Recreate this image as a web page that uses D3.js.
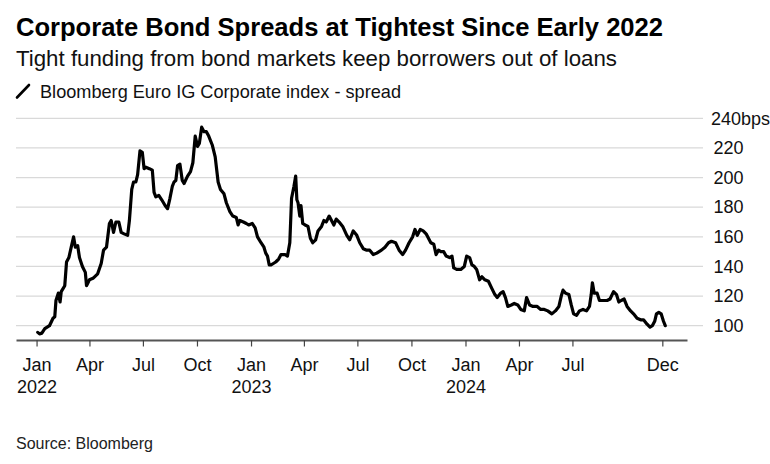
<!DOCTYPE html>
<html>
<head>
<meta charset="utf-8">
<script src="https://cdn.jsdelivr.net/npm/d3@7"></script>
<style>
  html, body { margin: 0; padding: 0; background: #fff; }
  svg { display: block; }
  text { font-family: "Liberation Sans", Arial, sans-serif; }
</style>
</head>
<body>
<svg id="chart" width="770" height="464"></svg>
<script>
// ---------------- DATA ----------------
const dates = [
  "2022-01-03","2022-01-06","2022-01-10","2022-01-15","2022-01-23","2022-01-29","2022-02-01","2022-02-03","2022-02-07","2022-02-10",
  "2022-02-12","2022-02-18","2022-02-21","2022-02-25","2022-03-01","2022-03-05","2022-03-08","2022-03-12","2022-03-15","2022-03-20",
  "2022-03-25","2022-03-27","2022-04-01","2022-04-07","2022-04-15","2022-04-21","2022-04-25","2022-04-30","2022-05-05","2022-05-08",
  "2022-05-12","2022-05-16","2022-05-21","2022-05-25","2022-05-30","2022-06-05","2022-06-08","2022-06-12","2022-06-15","2022-06-19",
  "2022-06-22","2022-06-26","2022-06-30","2022-07-03","2022-07-06","2022-07-12","2022-07-17","2022-07-20","2022-07-23","2022-07-28",
  "2022-08-02","2022-08-08","2022-08-12","2022-08-16","2022-08-20","2022-08-23","2022-08-26","2022-08-29","2022-09-02","2022-09-06",
  "2022-09-09","2022-09-15","2022-09-20","2022-09-24","2022-09-28","2022-10-02","2022-10-05","2022-10-09","2022-10-13","2022-10-17",
  "2022-10-21","2022-10-27","2022-11-01","2022-11-06","2022-11-10","2022-11-16","2022-11-20","2022-11-26","2022-12-01","2022-12-07",
  "2022-12-10","2022-12-13","2022-12-19","2022-12-24","2022-12-28",
  "2023-01-03","2023-01-08","2023-01-12","2023-01-18","2023-01-23","2023-01-26","2023-01-29","2023-02-01","2023-02-04","2023-02-08",
  "2023-02-12","2023-02-17","2023-02-21","2023-02-25","2023-02-28","2023-03-04","2023-03-08","2023-03-11","2023-03-15","2023-03-18",
  "2023-03-20","2023-03-22","2023-03-25","2023-03-27","2023-03-30","2023-04-03","2023-04-08","2023-04-12","2023-04-16","2023-04-21",
  "2023-04-25","2023-05-01","2023-05-05","2023-05-09","2023-05-14","2023-05-18","2023-05-22","2023-05-26","2023-05-31","2023-06-06",
  "2023-06-13","2023-06-18","2023-06-24","2023-06-30","2023-07-05","2023-07-11","2023-07-17","2023-07-22","2023-07-28","2023-08-03",
  "2023-08-11","2023-08-17","2023-08-23","2023-08-28","2023-09-04","2023-09-10","2023-09-16","2023-09-21","2023-09-27","2023-10-03",
  "2023-10-07","2023-10-11","2023-10-16","2023-10-21","2023-10-26","2023-10-30","2023-11-03","2023-11-08","2023-11-12","2023-11-16",
  "2023-11-20","2023-11-25","2023-11-29","2023-12-05","2023-12-09","2023-12-12","2023-12-17","2023-12-24","2023-12-30",
  "2024-01-03","2024-01-08","2024-01-12","2024-01-16","2024-01-20","2024-01-25","2024-01-29","2024-02-03","2024-02-09","2024-02-15",
  "2024-02-20","2024-02-24","2024-03-01","2024-03-05","2024-03-09","2024-03-13","2024-03-19","2024-03-24","2024-03-30","2024-04-04",
  "2024-04-10","2024-04-14","2024-04-19","2024-04-25","2024-05-02","2024-05-08","2024-05-14","2024-05-20","2024-05-27","2024-06-02",
  "2024-06-08","2024-06-12","2024-06-15","2024-06-19","2024-06-25","2024-06-29","2024-07-03","2024-07-08","2024-07-13","2024-07-19",
  "2024-07-25","2024-07-30","2024-08-02","2024-08-04","2024-08-07","2024-08-12","2024-08-16","2024-08-22","2024-08-29","2024-09-03",
  "2024-09-09","2024-09-14","2024-09-18","2024-09-22","2024-09-27","2024-10-02","2024-10-08","2024-10-13","2024-10-19","2024-10-25",
  "2024-10-30","2024-11-05","2024-11-10","2024-11-14","2024-11-18","2024-11-21","2024-11-25","2024-11-29","2024-12-03","2024-12-06"
];
const spread = [
  95.5,94.5,95,98,100,105,106,117,122,116,
  123,127,143,146,153,160,153,154,146,140,
  136,127,131,132,135,142,151,153,169,171,
  163,170,170,163,162,161,171,192,197,197,
  202,218,217,206,207,206,205,190,187,188,
  185,181,179,186,194,197,198,208,209,198,
  196,201,204,210,228,221,223,234,231,231,
  228,222,214,197,192,189,183,177,174,173,
  168,171,170,169,168,
  169,166,160,156,153,149,147,141,141,142,
  143,145,148,148,148,147,156,186,194,201,
  185,183,174,181,169,168,167,159,156,158,
  164,167,171,170,174,171,168,172,170,167,
  161,158,164,161,156,152,151,151,148,149,
  151,153,156,157,156,151,148,151,156,160,
  165,161,165,164,162,159,156,155,148,151,
  150,150,147,146,147,139,138,138,140,
  147,146,141,140,138,131,133,131,130,125,
  121,119,122,123,119,113,114,115,114,111,
  110,119,114,113,113,111,111,110,108,110,
  113,120,124,122,121,114,108,107,110,111,
  110,113,121,129,122,122,117,117,117,118,
  123,121,116,117,118,113,110,108,105,104,
  104,101,99,100,103,108,109,108,103,100
];
const yTicks = [100, 120, 140, 160, 180, 200, 220, 240];
const yTickLabels = ["100","120","140","160","180","200","220","240bps"];
const xTickDates = ["2022-01-01","2022-04-01","2022-07-01","2022-10-01","2023-01-01","2023-04-01","2023-07-01","2023-10-01","2024-01-01","2024-04-01","2024-07-01","2024-12-01"];
const xTickMonths = ["Jan","Apr","Jul","Oct","Jan","Apr","Jul","Oct","Jan","Apr","Jul","Dec"];
const xTickYears = ["2022","","","","2023","","","","2024","","",""];

const titleText = "Corporate Bond Spreads at Tightest Since Early 2022";
const subtitleText = "Tight funding from bond markets keep borrowers out of loans";
const legendText = "Bloomberg Euro IG Corporate index - spread";
const sourceText = "Source: Bloomberg";

// ---------------- CHART ----------------
const parse = d3.utcParse("%Y-%m-%d");
const data = dates.map((d, i) => ({ date: parse(d), value: spread[i] }));
const svg = d3.select("#chart");

const x = d3.scaleUtc()
  .domain([parse("2021-11-27"), parse("2025-01-12")])
  .range([16, 687]);
const y = d3.scaleLinear()
  .domain([90.35, 240])
  .range([340, 118.3]);

// title block
function fitText(sel, target) {
  const len = sel.node().getComputedTextLength();
  if (Math.abs(len - target) > 2) {
    sel.attr("textLength", target).attr("lengthAdjust", "spacingAndGlyphs");
  }
}
const title = svg.append("text").attr("x", 16).attr("y", 36)
  .attr("font-size", 25).attr("font-weight", "bold").attr("fill", "#000")
  .text(titleText);
fitText(title, 647);
const subtitle = svg.append("text").attr("x", 16).attr("y", 66)
  .attr("font-size", 21.5).attr("fill", "#111")
  .text(subtitleText);
fitText(subtitle, 601);

svg.append("line").attr("x1", 17).attr("y1", 97.5).attr("x2", 29).attr("y2", 85)
  .attr("stroke", "#000").attr("stroke-width", 2.6).attr("stroke-linecap", "round");
const legend = svg.append("text").attr("x", 40).attr("y", 98)
  .attr("font-size", 19).attr("fill", "#111")
  .text(legendText);
fitText(legend, 361);

// gridlines
svg.append("g").selectAll("line").data(yTicks).join("line")
  .attr("x1", 16).attr("x2", 703)
  .attr("y1", d => y(d)).attr("y2", d => y(d))
  .attr("stroke", "#d9d9d9").attr("stroke-width", 1.3);

// y labels
svg.append("g").selectAll("text").data(yTicks).join("text")
  .attr("x", (d, i) => yTickLabels[i].length > 3 ? 711 : 713.5)
  .attr("y", d => y(d))
  .attr("dy", "0.35em")
  .attr("font-size", 18).attr("fill", "#111")
  .text((d, i) => yTickLabels[i]);

// x axis
const xAxis = d3.axisBottom(x)
  .tickValues(xTickDates.map(parse))
  .tickSize(6.5).tickSizeOuter(0)
  .tickFormat((d, i) => xTickMonths[i]);
const gx = svg.append("g").attr("transform", "translate(0,340)").call(xAxis);
gx.select(".domain").attr("stroke", "#555").attr("stroke-width", 2);
gx.selectAll(".tick line").attr("stroke", "#444").attr("stroke-width", 1.2);
gx.selectAll(".tick text").remove();
gx.selectAll(".tick").each(function(d, i) {
  const t = d3.select(this).append("text")
    .attr("fill", "#111").attr("font-size", 18).attr("text-anchor", "middle")
    .attr("font-family", "\"Liberation Sans\", Arial, sans-serif");
  t.append("tspan").attr("x", 0).attr("y", 31).text(xTickMonths[i]);
  if (xTickYears[i]) t.append("tspan").attr("x", 0).attr("y", 53).text(xTickYears[i]);
});

// line
const line = d3.line().x(d => x(d.date)).y(d => y(d.value));
svg.append("path").datum(data)
  .attr("d", line)
  .attr("fill", "none").attr("stroke", "#000")
  .attr("stroke-width", 3.2).attr("stroke-linejoin", "round").attr("stroke-linecap", "round");

// source
svg.append("text").attr("x", 16).attr("y", 449)
  .attr("font-size", 16).attr("fill", "#222")
  .text(sourceText);
</script>
</body>
</html>
